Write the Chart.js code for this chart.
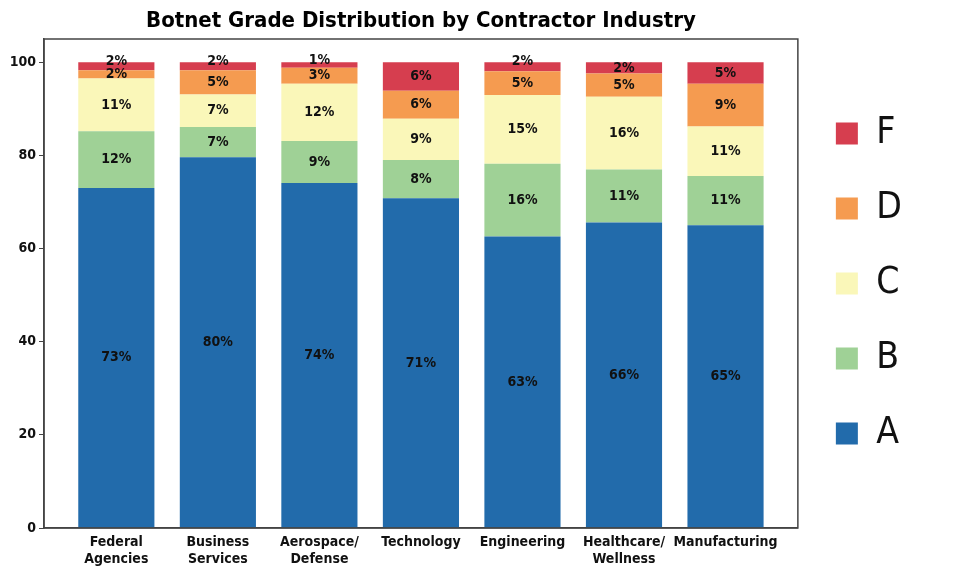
<!DOCTYPE html>
<html>
<head>
<meta charset="utf-8">
<script src="https://cdn.jsdelivr.net/npm/chart.js@4"></script>
<style>
  html, body { margin: 0; padding: 0; background: #fff; }
  #wrap { width: 953px; height: 578px; }
</style>
</head>
<body>
<div id="wrap"><canvas id="gradeChart"></canvas></div>
<script>
// industries on the x axis (arrays = two-line labels)
const industries = [
  ['Federal', 'Agencies'],
  ['Business', 'Services'],
  ['Aerospace/', 'Defense'],
  'Technology',
  'Engineering',
  ['Healthcare/', 'Wellness'],
  'Manufacturing',
];

// share of contractors per grade, percent
const gradeA = [73.0, 79.6, 74.1, 70.8, 62.6, 65.6, 65.0];
const gradeB = [12.2, 6.5, 9.0, 8.2, 15.6, 11.4, 10.6];
const gradeC = [11.3, 7.0, 12.3, 8.9, 14.8, 15.6, 10.6];
const gradeD = [1.8, 5.2, 3.4, 6.0, 5.1, 5.0, 9.2];
const gradeF = [1.7, 1.7, 1.2, 6.1, 1.9, 2.4, 4.6];

const yTicks = [0, 20, 40, 60, 80, 100];

const FONT = '"DejaVu Sans Condensed", "Liberation Sans Narrow", sans-serif';

const toPoints = (arr) => arr.map((v, i) => ({ x: i, y: v }));

const series = [
  { label: 'A', data: gradeA, color: '#226bab' },
  { label: 'B', data: gradeB, color: '#9fd196' },
  { label: 'C', data: gradeC, color: '#faf7b9' },
  { label: 'D', data: gradeD, color: '#f59b50' },
  { label: 'F', data: gradeF, color: '#d63e4f' },
];

// percent text in the middle of each segment
const barLabels = {
  id: 'barLabels',
  afterDatasetsDraw(chart) {
    const { ctx } = chart;
    const last = chart.data.datasets.length - 1;
    ctx.save();
    ctx.font = 'bold 14px ' + FONT;
    ctx.fillStyle = '#111';
    ctx.textAlign = 'center';
    ctx.textBaseline = 'middle';
    chart.data.datasets.forEach((ds, di) => {
      chart.getDatasetMeta(di).data.forEach((bar, i) => {
        const h = bar.base - bar.y;
        let y = bar.y + h / 2;
        if (di === last && h < 10) y -= 5;
        ctx.fillText(Math.round(ds.data[i].y) + '%', bar.x, y);
      });
    });
    ctx.restore();
  },
};

// box round the plot area
const frame = {
  id: 'frame',
  afterDraw(chart) {
    const { ctx, chartArea: a } = chart;
    ctx.save();
    ctx.strokeStyle = '#444';
    ctx.lineWidth = 1.5;
    ctx.strokeRect(a.left, a.top, a.right - a.left, a.bottom - a.top);
    ctx.restore();
  },
};

const ctx = document.getElementById('gradeChart').getContext('2d');
new Chart(ctx, {
  type: 'bar',
  data: {
    datasets: series.map((s) => ({
      label: s.label,
      data: toPoints(s.data),
      backgroundColor: s.color,
      borderWidth: 0,
      categoryPercentage: 1,
      barPercentage: 0.75,
    })),
  },
  options: {
    responsive: true,
    maintainAspectRatio: false,
    animation: false,
    layout: {
      padding: { right: 41 },
    },
    plugins: {
      title: {
        display: true,
        fullSize: false,
        text: 'Botnet Grade Distribution by Contractor Industry',
        color: '#000',
        font: { family: FONT, size: 22, weight: 'bold', lineHeight: 1 },
        padding: { top: 10, bottom: 7 },
      },
      legend: {
        position: 'right',
        fullSize: false,
        reverse: true,
        labels: {
          boxWidth: 22,
          boxHeight: 22,
          padding: 38,
          color: '#111',
          font: { family: FONT, size: 37 },
        },
      },
      tooltip: {
        enabled: false,
      },
    },
    scales: {
      x: {
        type: 'linear',
        stacked: true,
        offset: false,
        min: -0.7125,
        max: 6.7125,
        afterBuildTicks: (axis) => {
          axis.ticks = industries.map((_, i) => ({ value: i }));
        },
        afterFit: (axis) => {
          axis.height = 50;
        },
        grid: {
          display: false,
          drawTicks: false,
        },
        border: {
          color: '#444',
          width: 1.5,
        },
        ticks: {
          autoSkip: false,
          maxRotation: 0,
          minRotation: 0,
          padding: 6,
          color: '#111',
          font: { family: FONT, size: 14, weight: 'bold', lineHeight: 1.2 },
          callback: function (value) {
            return industries[value];
          },
        },
      },
      y: {
        stacked: true,
        min: 0,
        max: 105,
        afterBuildTicks: (axis) => {
          axis.ticks = yTicks.map((v) => ({ value: v }));
        },
        afterFit: (axis) => {
          axis.width = 44;
        },
        grid: {
          drawOnChartArea: false,
          drawTicks: true,
          tickLength: 5,
          color: '#444',
        },
        border: {
          color: '#444',
          width: 1.5,
        },
        ticks: {
          padding: 3,
          color: '#111',
          font: { family: FONT, size: 14, weight: 'bold' },
        },
      },
    },
  },
  plugins: [barLabels, frame],
});
</script>
</body>
</html>
